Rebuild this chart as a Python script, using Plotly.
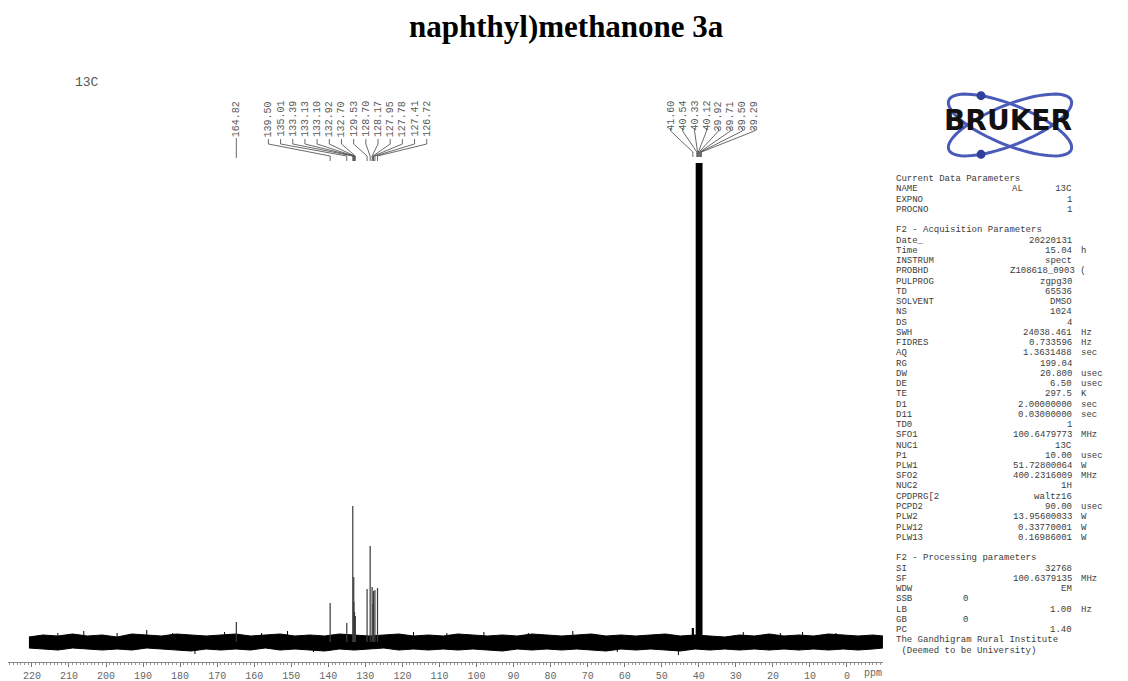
import math
import plotly.graph_objects as go

# ---------------- data ----------------
arom_ppm = [139.50, 135.01, 133.39, 133.13, 133.10, 132.92, 132.70,
            129.53, 128.70, 128.17, 127.95, 127.78, 127.41, 126.72]
arom_h = [39, 19, 136, 65, 40, 30, 26, 53, 96, 55, 38, 51, 52, 54]

co_ppm = [164.82]
co_h = [20]

solv_ppm = [41.60, 40.54, 40.33, 40.12, 39.92, 39.71, 39.50, 39.29]
solv_h = [14, 479, 479, 479, 479, 479, 479, 479]

noise_ppm = [220.8, 217, 213, 209, 205, 201, 197, 193, 189, 185, 181, 177, 173, 169,
             165, 161, 157, 153, 149, 145, 141, 137, 133, 129, 125, 121, 117, 113,
             109, 105, 101, 97, 93, 89, 85, 81, 77, 73, 69, 65, 61, 57, 53, 49, 45,
             41, 37, 33, 29, 25, 21, 17, 13, 9, 5, 1, -3, -7, -9.7]
noise_hi = [5, 7, 6, 8, 6, 7, 5, 8, 7, 6, 8, 7, 6, 7, 8, 6, 7, 8, 6, 7, 6, 8, 7, 6,
            7, 8, 6, 7, 6, 8, 7, 6, 7, 6, 8, 7, 6, 7, 8, 6, 7, 6, 7, 8, 6, 7, 6, 5,
            7, 6, 8, 6, 7, 6, 8, 7, 6, 7, 6]
noise_lo = [-6, -7, -8, -6, -7, -8, -7, -8, -6, -7, -8, -9, -7, -8, -7, -8, -6, -8,
            -7, -8, -9, -7, -8, -7, -6, -8, -7, -8, -7, -8, -7, -8, -9, -7, -8, -7,
            -8, -7, -8, -9, -7, -8, -7, -8, -9, -7, -8, -7, -8, -7, -8, -7, -8, -7,
            -8, -7, -8, -7, -6]

spike_ppm = [213, 206, 197, 189, 182, 176, 168, 158, 151, 144, 117, 108, 98, 86,
             74, 62, 45.5, 28, 18, 12, 3]
spike_h = [9, 11, 9, 12, 9, -12, 10, 9, 11, -10, 10, 9, 10, 9, 11, -10, -13, 10, 9, 10, 9]

tick_vals = [0, 10, 20, 30, 40, 50, 60, 70, 80, 90, 100, 110,
             120, 130, 140, 150, 160, 170, 180, 190, 200, 210, 220]

param_labels = ["Current Data Parameters", "NAME", "EXPNO", "PROCNO", "",
                "F2 - Acquisition Parameters", "Date_", "Time", "INSTRUM", "PROBHD",
                "PULPROG", "TD", "SOLVENT", "NS", "DS", "SWH", "FIDRES", "AQ", "RG",
                "DW", "DE", "TE", "D1", "D11", "TD0", "SFO1", "NUC1", "P1", "PLW1",
                "SFO2", "NUC2", "CPDPRG[2", "PCPD2", "PLW2", "PLW12", "PLW13", "",
                "F2 - Processing parameters", "SI", "SF", "WDW", "SSB", "LB", "GB", "PC",
                "The Gandhigram Rural Institute", " (Deemed to be University)"]
param_values = ["", "AL      13C", "1", "1", "",
                "", "20220131", "15.04", "spect", "Z108618_0903 (",
                "zgpg30", "65536", "DMSO", "1024", "4", "24038.461", "0.733596",
                "1.3631488", "199.04",
                "20.800", "6.50", "297.5", "2.00000000", "0.03000000", "1", "100.6479773",
                "13C", "10.00", "51.72800064",
                "400.2316009", "1H", "waltz16", "90.00", "13.95600033", "0.33770001",
                "0.16986001", "",
                "", "32768", "100.6379135", "EM", "0", "1.00", "0", "1.40",
                "", ""]
param_units = ["", "", "", "", "",
               "", "", "h", "", "",
               "", "", "", "", "", "Hz", "Hz", "sec", "",
               "usec", "usec", "K", "sec", "sec", "", "MHz", "", "usec", "W",
               "MHz", "", "", "usec", "W", "W", "W", "",
               "", "", "MHz", "", "", "Hz", "", "",
               "", ""]

# ---------------- layout geometry ----------------
W, H = 1128, 681
PL, PR, PT, PB = 8, 883, 90, 662          # plot area in pixels
XR = [226.45, -9.72]
YR = [-20, 552]


def px(xp):
    return (xp - PL) / (PR - PL)


def py(yp):
    return (PB - yp) / (PB - PT)


fig = go.Figure()

# baseline noise band
fig.add_trace(go.Scatter(x=noise_ppm, y=noise_lo, mode="lines",
                         line=dict(color="black", width=1), hoverinfo="skip"))
fig.add_trace(go.Scatter(x=noise_ppm, y=noise_hi, mode="lines", fill="tonexty",
                         fillcolor="black", line=dict(color="black", width=1),
                         hoverinfo="skip"))


def sticks(ppms, hs):
    xs, ys = [], []
    for p, h in zip(ppms, hs):
        xs += [p, p, None]
        ys += [0, h, None]
    return xs, ys


sx, sy = sticks(spike_ppm, spike_h)
fig.add_trace(go.Scatter(x=sx, y=sy, mode="lines", line=dict(color="black", width=1),
                         hoverinfo="skip"))

for ppms, hs, col, wd in [(co_ppm, co_h, "#333333", 1.2),
                          (arom_ppm, arom_h, "#3a3a3a", 1.2),
                          (solv_ppm, solv_h, "black", 2.2)]:
    sx, sy = sticks(ppms, hs)
    fig.add_trace(go.Scatter(x=sx, y=sy, mode="lines", line=dict(color=col, width=wd),
                             hoverinfo="skip"))

# ---------------- peak labels & connectors ----------------
ppm_per_px = (XR[0] - XR[1]) / (PR - PL)
arom_center, arom_step = 134.8, 12.18 * ppm_per_px
solv_center, solv_step = 36.3, 11.95 * ppm_per_px

cx, cy = [], []
annotations = []
lab_font = dict(family="Liberation Mono", size=10, color="#5a5a5a")


def add_label(xv, val):
    annotations.append(dict(x=xv, y=542, xref="x", yref="y", text=f"{val:.2f}",
                            textangle=-90, showarrow=False, xanchor="center",
                            yanchor="top", font=lab_font, borderpad=0))


n = len(arom_ppm)
for i, p in enumerate(arom_ppm):
    lx = arom_center + ((n - 1) / 2 - i) * arom_step
    add_label(lx, p)
    cx += [lx, lx, p, p, None]
    cy += [503, 498, 486, 481, None]

for p in co_ppm:
    add_label(p, p)
    cx += [p, p, None]
    cy += [504, 484, None]

n = len(solv_ppm)
for i, p in enumerate(solv_ppm):
    lx = solv_center + ((n - 1) / 2 - i) * solv_step
    add_label(lx, p)
    cx += [lx, lx, p, p, None]
    cy += [514, 511, 490, 485, None]

fig.add_trace(go.Scatter(x=cx, y=cy, mode="lines", line=dict(color="#444444", width=0.8),
                         hoverinfo="skip"))

# ---------------- texts ----------------
annotations.append(dict(x=px(566), y=py(27), xref="paper", yref="paper",
                        text="<b>naphthyl)methanone 3a</b>", showarrow=False,
                        xanchor="center", yanchor="middle",
                        font=dict(family="Liberation Serif", size=31, color="black")))
annotations.append(dict(x=px(87), y=py(83), xref="paper", yref="paper", text="13C",
                        showarrow=False, xanchor="center", yanchor="middle",
                        font=dict(family="Liberation Mono", size=13, color="#555555")))
annotations.append(dict(x=px(873), y=py(673), xref="paper", yref="paper", text="ppm",
                        showarrow=False, xanchor="center", yanchor="middle",
                        font=dict(family="Liberation Mono", size=10, color="#666666")))

pfont = dict(family="Liberation Mono", size=9, color="#3c3c3c")
LINE0, LSTEP = 179, 10.25
VAL_RIGHT, UNIT_LEFT, MID_X = 1073, 1080, 966
for i, (lab, val, unit) in enumerate(zip(param_labels, param_values, param_units)):
    yy = py(LINE0 + LSTEP * i)
    common = dict(xref="paper", yref="paper", showarrow=False, yanchor="middle",
                  borderpad=0, font=pfont)
    if lab:
        annotations.append(dict(x=px(895), y=yy, text=lab.replace(" ", "&nbsp;"),
                                xanchor="left", **common))
    if val:
        if lab in ("SSB", "GB"):
            annotations.append(dict(x=px(MID_X), y=yy, text=val, xanchor="center", **common))
        else:
            right = 1087 if lab == "PROBHD" else VAL_RIGHT
            annotations.append(dict(x=px(right), y=yy, text=val.replace(" ", "&nbsp;"),
                                    xanchor="right", **common))
    if unit:
        annotations.append(dict(x=px(UNIT_LEFT), y=yy, text=unit, xanchor="left", **common))

# Bruker logo
annotations.append(dict(x=px(1008), y=py(121), xref="paper", yref="paper",
                        text="<b>BRUKER</b>", showarrow=False, xanchor="center",
                        yanchor="middle",
                        font=dict(family="DejaVu Sans", size=28, color="#111111")))

shapes = []
LOGO_C, LOGO_A, LOGO_B, LOGO_ANG = (1010, 125), 66, 20, 22


def ellipse_pt(t, ang_deg):
    th = math.radians(ang_deg)
    xx = LOGO_C[0] + LOGO_A * math.cos(t) * math.cos(th) - LOGO_B * math.sin(t) * math.sin(th)
    yy = LOGO_C[1] + LOGO_A * math.cos(t) * math.sin(th) + LOGO_B * math.sin(t) * math.cos(th)
    return xx, yy


def ellipse_path(ang_deg, m=72):
    pts = []
    for k in range(m + 1):
        xx, yy = ellipse_pt(2 * math.pi * k / m, ang_deg)
        pts.append(f"{px(xx):.5f},{py(yy):.5f}")
    return "M " + " L ".join(pts) + " Z"


for ang in (LOGO_ANG, -LOGO_ANG):
    shapes.append(dict(type="path", xref="paper", yref="paper", path=ellipse_path(ang),
                       line=dict(color="#4a5bb8", width=3)))
for (t, ang) in [(math.radians(235), LOGO_ANG), (math.radians(125), -LOGO_ANG)]:
    dx, dy = ellipse_pt(t, ang)
    shapes.append(dict(type="circle", xref="paper", yref="paper",
                       x0=px(dx - 4.5), x1=px(dx + 4.5), y0=py(dy + 4.5), y1=py(dy - 4.5),
                       fillcolor="#2f3f9a", line=dict(color="#2f3f9a", width=0)))

fig.update_layout(
    width=W, height=H, autosize=False,
    margin=dict(l=PL, r=W - PR, t=PT, b=H - PB),
    paper_bgcolor="white", plot_bgcolor="white",
    showlegend=False, hovermode=False,
    annotations=annotations, shapes=shapes,
    xaxis=dict(range=XR, tickmode="array", tickvals=tick_vals,
               ticktext=[str(v) for v in tick_vals], automargin=False,
               ticks="outside", ticklen=4, tickcolor="#777777", tickwidth=1,
               minor=dict(dtick=1, ticks="outside", ticklen=2, tickcolor="#999999"),
               showline=True, linecolor="#888888", linewidth=1,
               showgrid=False, zeroline=False,
               tickfont=dict(family="Liberation Mono", size=10, color="#666666")),
    yaxis=dict(range=YR, visible=False, showgrid=False, zeroline=False, automargin=False),
)

fig.write_html("out.html")
